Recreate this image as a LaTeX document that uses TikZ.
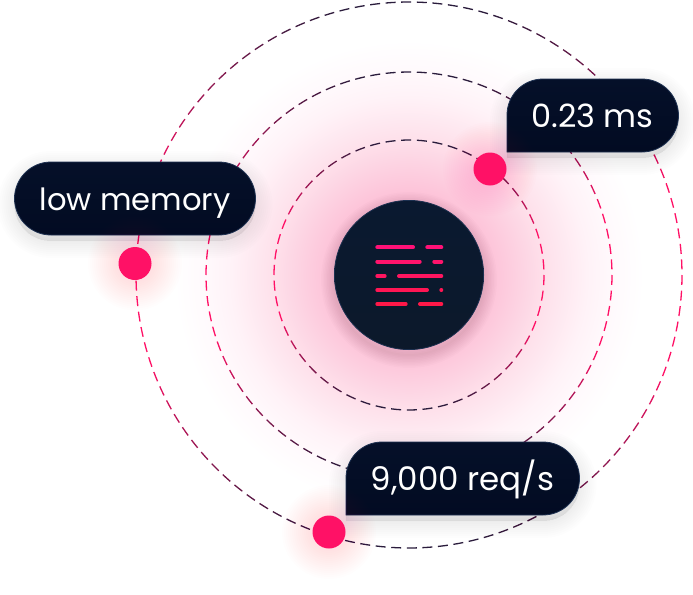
\documentclass[tikz,border=0pt]{standalone}
\usepackage{fontspec}
\setmainfont{Poppins}
\usetikzlibrary{calc}
\definecolor{ringpink}{HTML}{FF1166}
\definecolor{ringdark}{HTML}{2A1C3C}
\definecolor{pilltop}{HTML}{051029}
\definecolor{pillbot}{HTML}{020B22}
\definecolor{pilledge}{HTML}{1F3252}
\definecolor{hubtop}{HTML}{0A1930}
\definecolor{hubbot}{HTML}{0C192B}
\definecolor{hubedge}{HTML}{1C3050}
\definecolor{dotpink}{HTML}{FF1166}
\pgfdeclareradialshading{mainglow}{\pgfpoint{0bp}{0bp}}{%
 rgb(0bp)=(0.98,0.66,0.78);
 rgb(8bp)=(0.99,0.75,0.84);
 rgb(14.5bp)=(0.995,0.88,0.92);
 rgb(19bp)=(1,0.95,0.97);
 rgb(22bp)=(1,0.98,0.99);
 rgb(25bp)=(1,1,1);
 rgb(50bp)=(1,1,1)}
\tikzset{
  x=1pt,y=-1pt,
  ringdash/.style={line width=1.3pt,line cap=butt},
  pillface/.style={top color=pilltop,bottom color=pillbot,draw=pilledge,line width=0.8pt},
  pilllabel/.style={text=white,anchor=base,inner sep=0pt},
  dotface/.style={fill=dotpink,draw=none},
  barline/.style={line width=4pt,line cap=round},
}
\newcommand{\softshadow}[2]{%
  \foreach \w in {2,6,...,34}{%
    \draw[#2,line width=\w pt,opacity=0.007,line join=round,fill=#2,yshift=-6pt] #1;}}
\newcommand{\softglow}[2]{%
  \foreach \g in {17,19,...,#2}{%
    \fill[dotpink,opacity=0.007] (#1) circle[radius=\g];}}
\begin{document}
\begin{tikzpicture}
\useasboundingbox (0,0) rectangle (693,594);
\fill[white] (0,0) rectangle (693,594);
\coordinate (c) at (409,275);
\coordinate (dotA) at (135,263.5);
\coordinate (dotB) at (490,169);
\coordinate (dotC) at (329,532);
% main glow
\path[shading=mainglow] (c) circle[radius=235];
% rings: each dash coloured by height on the ring
\begin{scope}[shift={(c)}]
\foreach \r in {135,203,273}{
  \pgfmathtruncatemacro\N{round(2*pi*\r/15.6)}
  \pgfmathsetmacro\st{360/\N}
  \pgfmathsetmacro\da{\st*0.64}
  \foreach \i in {1,...,\N}{
    \pgfmathsetmacro\a{\i*\st}
    \pgfmathsetmacro\e{\a+\da}
    \pgfmathsetmacro\m{100*max(0,min(1,(abs(sin(\a))-0.35)/0.62))}
    \colorlet{ringc}{ringdark!\m!ringpink}
    \draw[ringdash,ringc] (\a:\r) arc[start angle=\a,end angle=\e,radius=\r];
  }
}
\end{scope}
% hub
\foreach \w in {2,5,...,26}{
  \draw[black!80!dotpink,line width=\w pt,opacity=0.012] (409,280) circle[radius=75];}
\draw[top color=hubtop,bottom color=hubbot,draw=hubedge,line width=0.8pt] (c) circle[radius=74.6];
% icon
\definecolor{barA}{HTML}{FF1177}\definecolor{barB}{HTML}{FF146C}\definecolor{barC}{HTML}{FF1560}
\definecolor{barD}{HTML}{FF1654}\definecolor{barE}{HTML}{FF1848}
\draw[barline,barA] (377.3,247.3) -- (413,247.3) (427.3,247.3) -- (441.3,247.3);
\draw[barline,barB] (377.3,261.6) -- (419.7,261.6) (434.3,261.6) -- (441.3,261.6);
\draw[barline,barC] (377.3,276) -- (384.7,276) (399,276) -- (441.3,276);
\draw[barline,barD] (377.3,290) -- (427,290);
\fill[barD] (441.3,290) circle[radius=2];
\draw[barline,barE] (377.3,304) -- (405.7,304) (420,304) -- (441.3,304);
% pills
\softshadow{(15+36,162) -- (255-36,162) arc[start angle=-90,end angle=90,radius=36.5] -- (15+36,235) arc[start angle=90,end angle=270,radius=36.5] -- cycle}{black}
\softshadow{(507,152) -- (507,115) arc[start angle=180,end angle=270,radius=36] -- (678-36,79) arc[start angle=-90,end angle=90,radius=36.5] -- cycle}{black}
\softshadow{(346,515) -- (346,478) arc[start angle=180,end angle=270,radius=36] -- (579-36,442) arc[start angle=-90,end angle=90,radius=36.5] -- cycle}{black}
\draw[pillface] (15+36,162) -- (255-36,162) arc[start angle=-90,end angle=90,radius=36.5] -- (15+36,235) arc[start angle=90,end angle=270,radius=36.5] -- cycle;
\draw[pillface] (507,152) -- (507,115) arc[start angle=180,end angle=270,radius=36] -- (678-36,79) arc[start angle=-90,end angle=90,radius=36.5] -- cycle;
\draw[pillface] (346,515) -- (346,478) arc[start angle=180,end angle=270,radius=36] -- (579-36,442) arc[start angle=-90,end angle=90,radius=36.5] -- cycle;
% dot glows and dots
\softglow{dotA}{47}
\softglow{dotB}{47}
\softglow{dotC}{47}
\fill[dotface] (dotA) circle[radius=16.5];
\fill[dotface] (dotB) circle[radius=16.5];
\fill[dotface] (dotC) circle[radius=16.5];
% labels
\node[pilllabel,font=\fontsize{30.6}{30}\selectfont] (lowmem) at (135,210) {low memory};
\node[pilllabel,font=\fontsize{32}{32}\selectfont] (latency) at (592.5,127.7) {0.23 ms};
\node[pilllabel,font=\fontsize{32.5}{32}\selectfont] (rate) at (462.5,490.2) {9,000 req/s};
\end{tikzpicture}
\end{document}
